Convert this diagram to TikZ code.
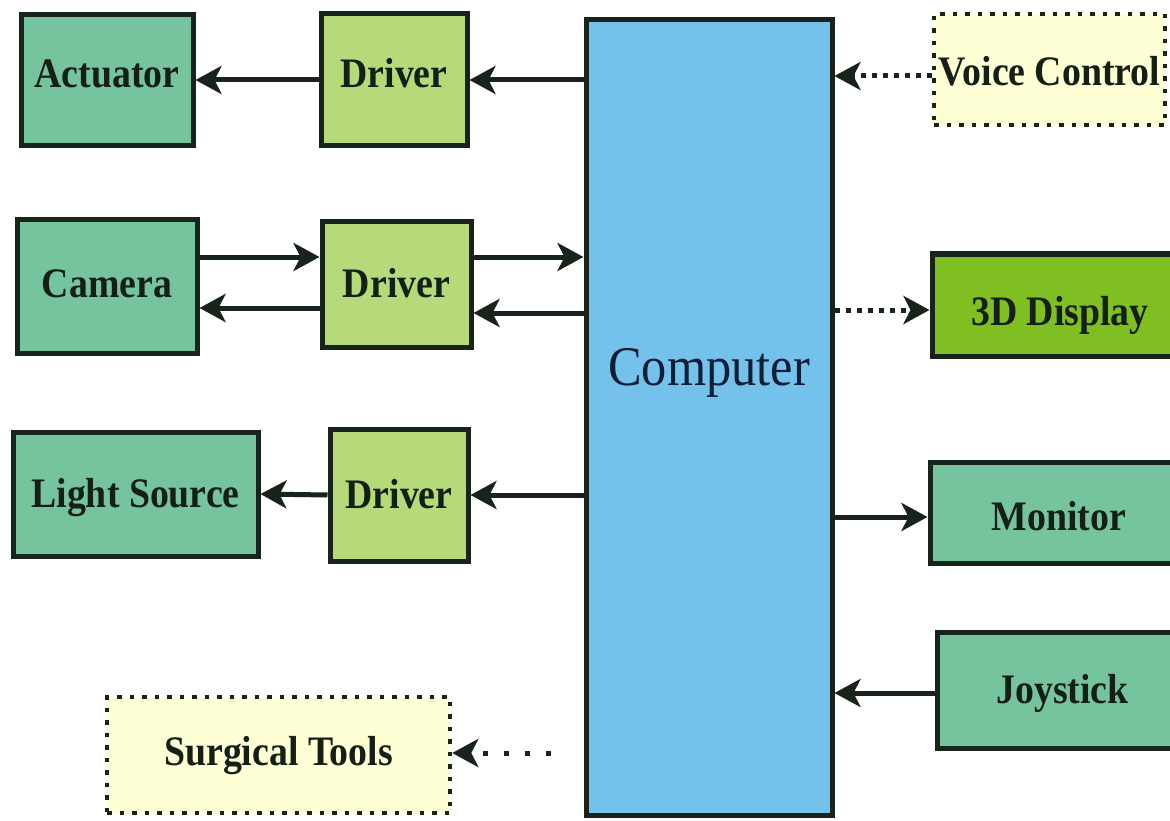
\documentclass[tikz,border=0pt]{standalone}
\usepackage{fontspec}
\setmainfont{Liberation Serif}
\newfontfamily\lblfont[FakeStretch=0.9]{Liberation Serif}
\usetikzlibrary{arrows.meta}
\definecolor{gfill}{HTML}{76C49E}
\definecolor{dfill}{HTML}{B6D97A}
\definecolor{cfill}{HTML}{74C2EC}
\definecolor{dispfill}{HTML}{80BF22}
\definecolor{yfill}{HTML}{FFFFD6}
\definecolor{edge}{HTML}{17231B}
\definecolor{txt}{HTML}{141F16}
\definecolor{ctxt}{HTML}{0F1E36}
\tikzset{
  box/.style={draw=edge, line width=5pt, inner sep=0pt, text height=28pt, text depth=12pt,
    font=\lblfont\fontsize{42}{44}\selectfont\bfseries, text=txt},
  gbox/.style={box, fill=gfill},
  dbox/.style={box, fill=dfill},
  dispbox/.style={box, fill=dispfill},
  ybox/.style={box, line width=4.5pt, fill=yfill, dash pattern=on 4.5pt off 8pt},
  compbox/.style={draw=edge, line width=5pt, fill=cfill, inner sep=0pt, text=ctxt,
    font=\lblfont\fontsize{56}{58}\selectfont, text height=38pt, text depth=103pt},
  arr/.style={draw=edge, line width=5pt, -{Stealth[length=26pt,width=28pt,inset=7pt]}},
  darr/.style={arr, line width=5pt, dash pattern=on 5pt off 6pt},
  sdarr/.style={arr, line width=5pt, dash pattern=on 5pt off 16pt},
}
\begin{document}
\begin{tikzpicture}[x=1pt,y=-1pt]
\useasboundingbox (0,0) rectangle (1170,821);
\clip (0,0) rectangle (1170,821);
\fill[white] (0,0) rectangle (1170,821);
% left column
\node[gbox, minimum width=172pt, minimum height=131pt] (act) at (107,80) {Actuator};
\node[dbox, minimum width=146pt, minimum height=132pt] (drv1) at (394,80) {Driver};
\node[gbox, minimum width=180pt, minimum height=133pt, text height=33pt] (cam) at (107,286.5) {Camera};
\node[dbox, minimum width=149pt, minimum height=125pt, text height=37pt] (drv2) at (396.5,284.5) {Driver};
\node[gbox, minimum width=245pt, minimum height=124pt, text height=38pt] (light) at (135.5,494) {Light Source};
\node[dbox, minimum width=138pt, minimum height=132pt, text height=38pt] (drv3) at (399,495) {Driver};
\node[ybox, minimum width=343pt, minimum height=116pt, text height=32pt] (surg) at (278.5,755) {Surgical Tools};
% computer
\node[compbox, minimum width=246pt, minimum height=795pt] (comp) at (709,417.5) {Computer};
% right column
\node[ybox, minimum width=231pt, minimum height=111pt, text height=44pt] (voice) at (1049.5,69.5) {Voice Control};
\node[dispbox, minimum width=256pt, minimum height=102pt, text height=52pt] (disp) at (1060,305) {3D Display};
\node[gbox, minimum width=258pt, minimum height=101pt, text height=48pt] (mon) at (1059,512.5) {Monitor};
\node[gbox, minimum width=251pt, minimum height=116pt, text height=38pt] (joy) at (1062.5,690) {Joystick};
\coordinate (sfree) at (551,753);
% connectors
\draw[arr] (comp.west |- drv1) -- (drv1.east);
\draw[arr] (drv1.west) -- (act.east);
\draw[arr] (cam.east |- 0,257) -- (drv2.west |- 0,257);
\draw[arr] (drv2.west |- 0,308) -- (cam.east |- 0,308);
\draw[arr] (drv2.east |- 0,257) -- (comp.west |- 0,257);
\draw[arr] (comp.west |- 0,313) -- (drv2.east |- 0,313);
\draw[arr] (comp.west |- drv3) -- (drv3.east);
\draw[arr] (drv3.west) -- (light.east);
\draw[darr] (voice.west |- 0,76) -- (comp.east |- 0,76);
\draw[darr] (comp.east |- 0,310) -- (disp.west |- 0,310);
\draw[arr] (comp.east |- 0,517) -- (mon.west |- 0,517);
\draw[arr] (joy.west |- 0,693) -- (comp.east |- 0,693);
\draw[sdarr] (sfree) -- (surg.east |- sfree);
\end{tikzpicture}
\end{document}
